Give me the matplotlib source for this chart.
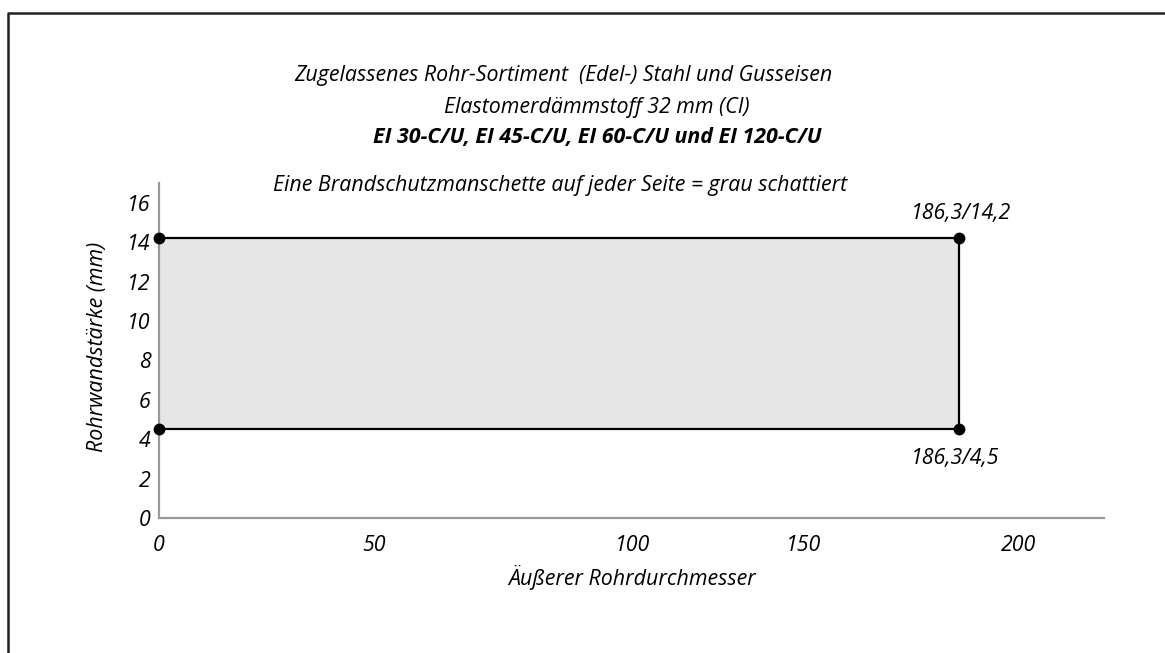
import matplotlib
matplotlib.use("Agg")
import matplotlib.pyplot as plt
from matplotlib.lines import Line2D
from matplotlib.transforms import ScaledTranslation

# ---- data ----
diam_min, diam_max = 0.0, 186.3
wall_min, wall_max = 4.5, 14.2
x_ticks = [0, 50, 100, 150, 200]
x_tick_labels = ["0", "50", "100", "150", "200"]
y_ticks = [0, 2, 4, 6, 8, 10, 12, 14, 16]
y_tick_labels = ["0", "2", "4", "6", "8", "10", "12", "14", "16"]
corner_labels = ["186,3/14,2", "186,3/4,5"]
title_lines = [
    "Zugelassenes Rohr-Sortiment  (Edel-) Stahl und Gusseisen",
    "Elastomerdämmstoff 32 mm (CI)",
    "EI 30-C/U, EI 45-C/U, EI 60-C/U und EI 120-C/U",
    "Eine Brandschutzmanschette auf jeder Seite = grau schattiert",
]
x_label = "Äußerer Rohrdurchmesser"
y_label = "Rohrwandstärke (mm)"

plt.rcParams['font.family'] = ['Open Sans', 'DejaVu Sans']
FS = 15.4
W, H = 1165, 653
fig = plt.figure(figsize=(W / 100, H / 100), dpi=100)
fig.patch.set_facecolor("white")

def fx(px):
    return px / W

def fy(py):
    return 1 - py / H

ax = fig.add_axes([fx(159), fy(518), fx(1104) - fx(159), fy(183) - fy(518)])
ax.set_xlim(0, 220)
ax.set_ylim(0, 17)

# shaded region
ax.fill_between([diam_min, diam_max], [wall_min, wall_min], [wall_max, wall_max],
                color="#e6e6e6", zorder=1, linewidth=0)
ax.plot([diam_min, diam_max, diam_max, diam_min],
        [wall_max, wall_max, wall_min, wall_min], color="black", lw=1.6, zorder=2)
ax.plot([diam_min, diam_max, diam_max, diam_min],
        [wall_max, wall_max, wall_min, wall_min], 'o', color="black",
        ms=7.5, zorder=3, clip_on=False)

ax.annotate(corner_labels[0], (diam_max, wall_max), xytext=(1, 18),
            textcoords="offset points", ha="center", va="center",
            fontsize=FS, style="italic")
ax.annotate(corner_labels[1], (diam_max, wall_min), xytext=(-3, -21),
            textcoords="offset points", ha="center", va="center",
            fontsize=FS, style="italic")

for s in ["top", "right"]:
    ax.spines[s].set_visible(False)
for s in ["left", "bottom"]:
    ax.spines[s].set_color("#999999")
    ax.spines[s].set_linewidth(1.6)

ax.set_xticks(x_ticks)
ax.set_xticklabels(x_tick_labels, fontsize=FS, style="italic")
ax.set_yticks(y_ticks)
ax.set_yticklabels(y_tick_labels, fontsize=FS, style="italic")
ax.tick_params(axis="both", length=0)
ax.tick_params(axis="x", pad=12)
ax.tick_params(axis="y", pad=6)

# the "100" label sits to the right of its tick in the reference
lbl = ax.get_xticklabels()[2]
lbl.set_transform(lbl.get_transform() + ScaledTranslation(44 / 100, 0, fig.dpi_scale_trans))

ax.set_xlabel(x_label, fontsize=FS, style="italic")
ax.xaxis.set_label_coords((632 - 159) / 945, -(577 - 518) / 335)
ax.xaxis.label.set_va("center")
ax.set_ylabel(y_label, fontsize=FS, style="italic")
ax.yaxis.set_label_coords((98 - 159) / 945, (518 - 347) / 335)
ax.yaxis.label.set_va("center")

# titles
fig.text(fx(563), fy(75), title_lines[0], ha="center", va="center", fontsize=FS, style="italic")
fig.text(fx(597), fy(108), title_lines[1], ha="center", va="center", fontsize=FS, style="italic")
fig.text(fx(597), fy(138), title_lines[2], ha="center", va="center", fontsize=FS,
         style="italic", weight="bold")
fig.text(fx(560), fy(186), title_lines[3], ha="center", va="center", fontsize=FS, style="italic")

# outer frame
fig.add_artist(Line2D([fx(8), fx(8), fx(1170)], [fy(660), fy(13), fy(13)],
                      color="#222222", lw=1.8, transform=fig.transFigure))

fig.savefig("out.png", dpi=100)
